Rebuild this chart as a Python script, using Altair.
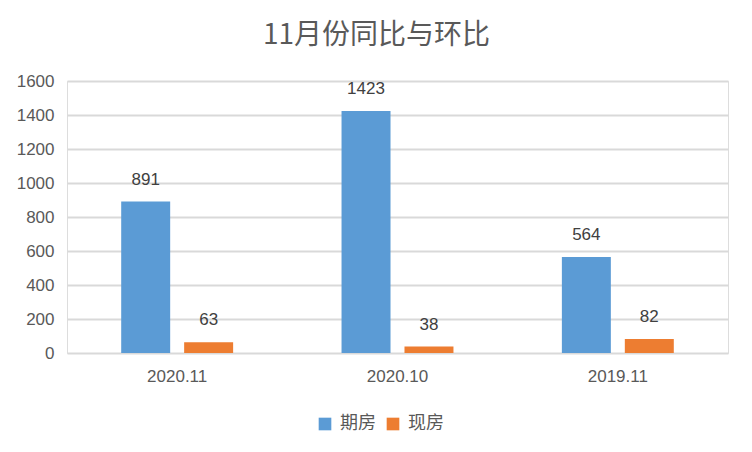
import altair as alt
import pandas as pd

categories = ["2020.11", "2020.10", "2019.11"]
series = ["期房", "现房"]
qifang = [891, 1423, 564]
xianfang = [63, 38, 82]
colors = ["#5B9BD5", "#ED7D31"]
y_ticks = [0, 200, 400, 600, 800, 1000, 1200, 1400, 1600]

rows = []
for c, a, b in zip(categories, qifang, xianfang):
    rows.append({"category": c, "series": series[0], "value": a})
    rows.append({"category": c, "series": series[1], "value": b})
df = pd.DataFrame(rows)

FONT = "Liberation Sans, Noto Sans CJK SC"
CJK = "Noto Sans CJK SC, Liberation Sans"

base = alt.Chart(df).encode(
    x=alt.X(
        "category:N",
        sort=categories,
        title=None,
        scale=alt.Scale(paddingInner=0.492, paddingOuter=0.246),
        axis=alt.Axis(
            labelAngle=0, domain=False, ticks=False, grid=False,
            labelFontSize=17, labelColor="#595959", labelFont=FONT,
            labelPadding=15,
        ),
    ),
    xOffset=alt.XOffset(
        "series:N", sort=series,
        scale=alt.Scale(paddingInner=0.222, paddingOuter=0),
    ),
    y=alt.Y(
        "value:Q",
        title=None,
        scale=alt.Scale(domain=[0, 1600], nice=False),
        axis=alt.Axis(
            values=y_ticks, format="d", domain=False, ticks=False,
            gridColor="#D9D9D9", gridWidth=2,
            labelFontSize=17, labelColor="#595959", labelFont=FONT,
            labelPadding=13,
        ),
    ),
)

bars = base.mark_bar().encode(
    color=alt.Color(
        "series:N",
        sort=series,
        scale=alt.Scale(domain=series, range=colors),
        legend=alt.Legend(
            title=None, orient="none", direction="horizontal",
            legendX=249, legendY=334,
            symbolType="square", symbolSize=160, symbolStrokeWidth=0,
            labelFontSize=18, labelFont=CJK, labelColor="#595959",
            labelOffset=6, columnPadding=8, padding=0,
        ),
    )
)

labels = base.mark_text(
    dy=-17, baseline="alphabetic", fontSize=17, color="#404040", font=FONT
).encode(text="value:Q")

chart = (
    alt.layer(bars, labels)
    .properties(
        width=661,
        height=272,
        autosize="none",
        padding={"left": 59, "top": 73, "right": 16, "bottom": 91},
        title=alt.Title(
            "11月份同比与环比",
            fontSize=28, font=CJK, color="#595959", fontWeight="normal",
            anchor="middle", dx=-21, offset=22,
        ),
    )
    .configure_view(stroke=None)
    .configure(background="white")
)

chart.save("out.html", embed_options={"renderer": "svg", "actions": False})
